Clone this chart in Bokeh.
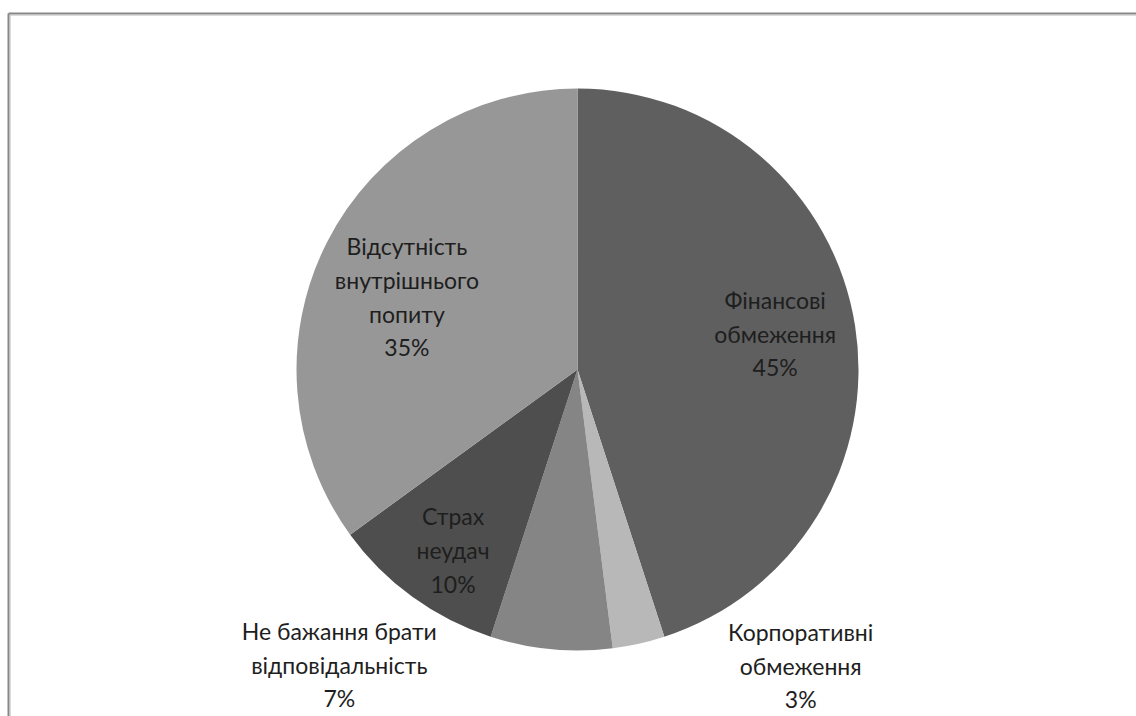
import math
from bokeh.plotting import figure
from bokeh.models import Range1d, ColumnDataSource
from bokeh.core.properties import value
from bokeh.embed import file_html
from bokeh.resources import INLINE

# ---- data ----
categories = ["Фінансові\nобмеження", "Корпоративні\nобмеження",
              "Не бажання брати\nвідповідальність", "Страх\nнеудач",
              "Відсутність\nвнутрішнього\nпопиту"]
shares = [45, 3, 7, 10, 35]
colors = ["#5f5f5f", "#b8b8b8", "#858585", "#4e4e4e", "#979797"]

# ---- label placement (radius fraction of pie radius, angle in degrees) ----
label_r = [0.715, 1.32, 1.35, 0.78, 0.66]
label_ang = [10.3, -53.0, -128.9, -124.6, 156.9]

R = 281
total = sum(shares)
starts, ends = [], []
cum = 0
for s in shares:
    starts.append(math.pi / 2 - 2 * math.pi * cum / total)
    cum += s
    ends.append(math.pi / 2 - 2 * math.pi * cum / total)

p = figure(width=1136, height=716, output_backend="svg", toolbar_location=None,
           x_range=Range1d(-577, 559), y_range=Range1d(-347, 369),
           min_border=0, background_fill_color="white")
p.axis.visible = False
p.grid.visible = False
p.outline_line_color = None

src = ColumnDataSource(dict(start=starts, end=ends, color=colors))
p.wedge(x=0, y=0, radius=R, start_angle="start", end_angle="end",
        direction="clock", fill_color="color", line_color=None, source=src)

lx, ly, lt = [], [], []
for c, s, rf, a in zip(categories, shares, label_r, label_ang):
    lx.append(rf * R * math.cos(math.radians(a)))
    ly.append(rf * R * math.sin(math.radians(a)))
    lt.append(f"{c}\n{s}%")
p.text(x=lx, y=ly, text=lt, text_align="center", text_baseline="middle",
       text_font=value("Lato"), text_font_size="23px", text_line_height=1.2,
       text_color="#1e1e1e")

# chart frame border (partially visible, like the reference)
p.segment(x0=[-569, -569], y0=[356, 356], x1=[559, -569], y1=[356, -347],
          line_color="#878787", line_width=2)
p.segment(x0=[-567.5, -567.5], y0=[354.5, 354.5], x1=[559, -567.5], y1=[354.5, -347],
          line_color="#b8b8b8", line_width=1)

open("out.html", "w").write(file_html(p, INLINE))
